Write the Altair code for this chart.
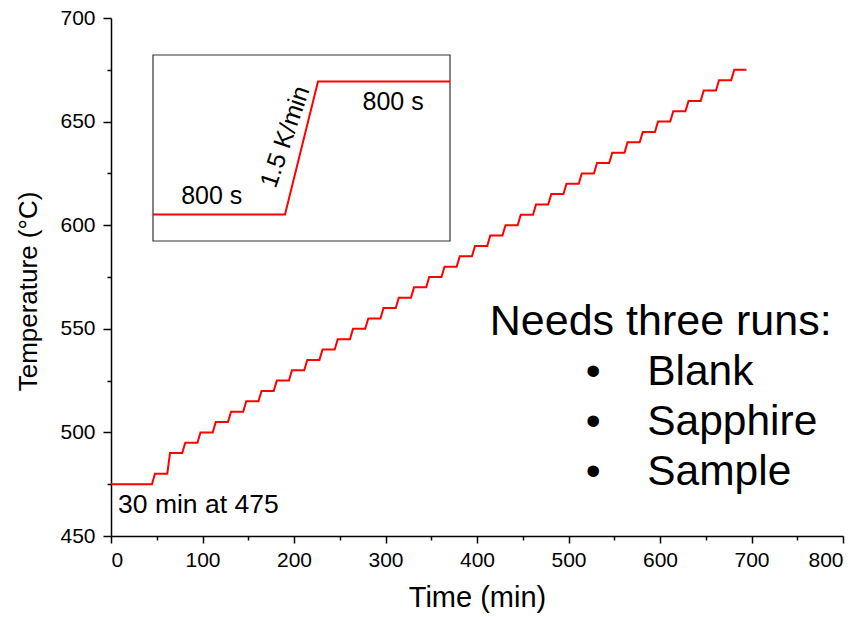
import altair as alt
import pandas as pd

FONT = "Liberation Sans"

# Furnace programme: hold temperatures (°C) and the start / end of each hold (min)
step_temp = [475, 480, 490, 495, 500, 505, 510, 515, 520, 525,
             530, 535, 540, 545, 550, 555, 560, 565, 570, 575,
             580, 585, 590, 595, 600, 605, 610, 615, 620, 625,
             630, 635, 640, 645, 650, 655, 660, 665, 670, 675]
hold_start = [0.0, 48.0, 64.5, 81.2, 97.8, 114.5, 131.2, 147.8, 164.5, 181.2,
              197.8, 214.5, 231.2, 247.8, 264.5, 281.2, 297.8, 314.5, 331.2, 347.8,
              364.5, 381.2, 397.8, 414.5, 431.2, 447.8, 464.5, 481.2, 497.8, 514.5,
              531.2, 547.8, 564.5, 581.2, 597.8, 614.5, 631.2, 647.8, 664.5, 681.2]
hold_end = [44.8, 61.5, 77.8, 94.5, 111.2, 127.8, 144.5, 161.2, 177.8, 194.5,
            211.2, 227.8, 244.5, 261.2, 277.8, 294.5, 311.2, 327.8, 344.5, 361.2,
            377.8, 394.5, 411.2, 427.8, 444.5, 461.2, 477.8, 494.5, 511.2, 527.8,
            544.5, 561.2, 577.8, 594.5, 611.2, 627.8, 644.5, 661.2, 677.8, 694.5]

x_ticks = [0, 50, 100, 150, 200, 250, 300, 350, 400, 450, 500, 550, 600, 650, 700, 750, 800]
y_ticks = [450, 475, 500, 525, 550, 575, 600, 625, 650, 675, 700]

# Single step of the programme (inset): time in s, temperature change in K
inset_time = [0, 800, 1000, 1800]
inset_dT = [0, 0, 5, 5]

# Annotations placed in data units
note_text = ["30 min at 475", "Needs three runs:"]
note_x = [7.7, 414]
note_y = [465, 553.3]
note_size = [26.5, 43]
bullet_items = ["Blank", "Sapphire", "Sample"]
bullet_y = [529.2, 505.0, 480.9]
bullet_x = 527
item_x = 586

rows = []
for i, t in enumerate(step_temp):
    rows.append({"order": 2 * i, "time": hold_start[i], "temp": t})
    rows.append({"order": 2 * i + 1, "time": hold_end[i], "temp": t})
profile = pd.DataFrame(rows)

W, H = 732, 518

x_scale = alt.Scale(domain=[0, 800], nice=False, zero=False)
y_scale = alt.Scale(domain=[450, 700], nice=False, zero=False)

x_axis = alt.Axis(
    values=x_ticks, title="Time (min)",
    labelExpr="datum.value % 100 === 0 ? datum.label : ''",
    tickSize={"condition": {"test": "datum.value % 100 === 0", "value": 7}, "value": 4},
    labelPadding=6, titlePadding=13, titleFontSize=29,
)
y_axis = alt.Axis(
    values=y_ticks, title="Temperature (°C)",
    labelExpr="datum.value % 50 === 0 ? datum.label : ''",
    tickSize={"condition": {"test": "datum.value % 50 === 0", "value": 8}, "value": 4},
    labelPadding=8, titlePadding=18, titleFontSize=26, titleY=273,
)

line = alt.Chart(profile).mark_line(color="#ff0000", strokeWidth=2, interpolate="linear").encode(
    x=alt.X("time:Q", scale=x_scale, axis=x_axis),
    y=alt.Y("temp:Q", scale=y_scale, axis=y_axis),
    order="order:Q",
)

notes = alt.Chart(pd.DataFrame({"x": note_x, "y": note_y, "label": note_text,
                                "size": note_size})).mark_text(
    align="left", baseline="middle", font=FONT, color="black"
).encode(
    x=alt.X("x:Q", scale=x_scale),
    y=alt.Y("y:Q", scale=y_scale),
    text="label:N",
    size=alt.Size("size:Q", scale=None, legend=None),
)

bullets = alt.Chart(pd.DataFrame({"x": [bullet_x] * 3, "y": bullet_y, "b": ["•"] * 3})).mark_text(
    align="center", baseline="middle", font=FONT, fontSize=42.5, color="black"
).encode(
    x=alt.X("x:Q", scale=x_scale),
    y=alt.Y("y:Q", scale=y_scale),
    text="b:N",
)

items = alt.Chart(pd.DataFrame({"x": [item_x] * 3, "y": bullet_y, "label": bullet_items})).mark_text(
    align="left", baseline="middle", font=FONT, fontSize=42.5, color="black"
).encode(
    x=alt.X("x:Q", scale=x_scale),
    y=alt.Y("y:Q", scale=y_scale),
    text="label:N",
)

main = alt.layer(line, notes, bullets, items)

# Inset: one hold / ramp / hold cycle on its own scales
ix_scale = alt.Scale(domain=[0, 1800], range=[42, 339], nice=False, zero=False)
iy_scale = alt.Scale(domain=[-1, 6], range=[223, 37], nice=False, zero=False)

box = alt.Chart(pd.DataFrame({"x0": [0], "x1": [1800], "y0": [-1], "y1": [6]})).mark_rect(
    fill="white", stroke="#333333", strokeWidth=1.2
).encode(
    x=alt.X("x0:Q", scale=ix_scale, axis=None),
    x2="x1:Q",
    y=alt.Y("y0:Q", scale=iy_scale, axis=None),
    y2="y1:Q",
)

inset_line = alt.Chart(pd.DataFrame({"t": inset_time, "dT": inset_dT})).mark_line(
    color="#ff0000", strokeWidth=2
).encode(
    x=alt.X("t:Q", scale=ix_scale, axis=None),
    y=alt.Y("dT:Q", scale=iy_scale, axis=None),
)

inset_labels = pd.DataFrame({
    "t": [356, 1455, 800],
    "dT": [0.69, 4.24, 2.92],
    "label": ["800 s", "800 s", "1.5 K/min"],
    "angle": [0, 0, 289],
})
inset_text = alt.Chart(inset_labels).mark_text(
    align="center", baseline="middle", font=FONT, fontSize=25, color="black"
).encode(
    x=alt.X("t:Q", scale=ix_scale, axis=None),
    y=alt.Y("dT:Q", scale=iy_scale, axis=None),
    text="label:N",
    angle=alt.Angle("angle:Q", scale=None),
)

inset = alt.layer(box, inset_line, inset_text)

chart = alt.layer(main, inset).resolve_scale(
    x="independent", y="independent"
).properties(
    width=W, height=H,
    autosize=alt.AutoSizeParams(type="none"),
    padding={"left": 111, "top": 18, "right": 23, "bottom": 81},
).configure_view(
    stroke=None
).configure_axis(
    grid=False,
    domainColor="black", domainWidth=1.5,
    tickColor="black", tickWidth=1.5,
    labelColor="black", labelFont=FONT, labelFontSize=21,
    titleColor="black", titleFont=FONT, titleFontWeight="normal",
)

chart.save("out.html", embed_options={"renderer": "svg", "actions": False})
